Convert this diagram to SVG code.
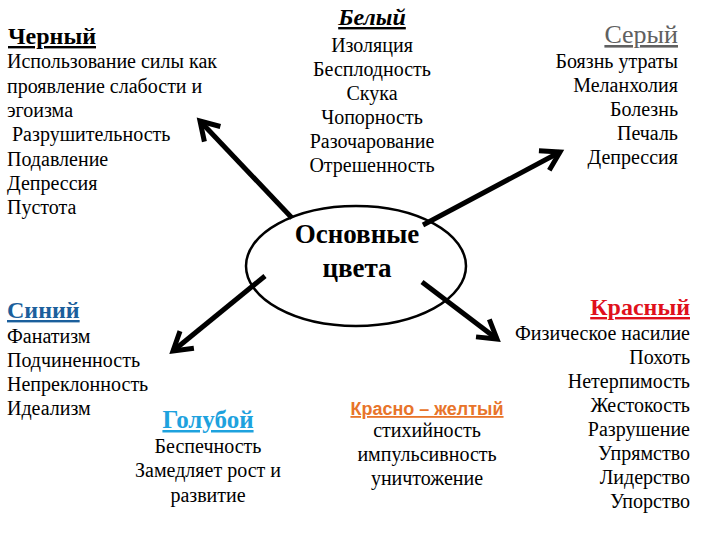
<svg xmlns="http://www.w3.org/2000/svg" width="720" height="540" viewBox="0 0 720 540">
<defs>
<style>
text{font-family:"Liberation Serif","Times New Roman",serif;fill:#000}
.b{font-size:20px}
.h{font-size:24px;font-weight:bold;text-decoration:underline}
.m{text-anchor:middle}
.e{text-anchor:end}
.c{stroke:#000;stroke-width:5;fill:none;marker-end:url(#ah)}
</style>
<marker id="ah" markerUnits="userSpaceOnUse" viewBox="-24 -14 30 28" refX="0" refY="0" markerWidth="30" markerHeight="28" orient="auto">
<polyline points="-18,-11 0,0 -18,11" fill="none" stroke="#000" stroke-width="5" stroke-linejoin="miter"/>
</marker>
</defs>
<rect width="720" height="540" fill="#fff"/>
<g id="connectors">
<line class="c" x1="292" y1="218" x2="200" y2="121"/>
<line class="c" x1="423" y1="225" x2="560" y2="152"/>
<line class="c" x1="265" y1="276" x2="173" y2="351"/>
<line class="c" x1="422" y1="282" x2="497" y2="339"/>
</g>
<g id="center">
<ellipse cx="356" cy="266" rx="110" ry="60" fill="none" stroke="#000" stroke-width="2.5"/>
<text x="357" y="243" class="m" style="font-size:27px;font-weight:bold">Основные</text>
<text x="357" y="277" class="m" style="font-size:27px;font-weight:bold">цвета</text>
</g>
<g id="black">
<text x="8" y="44" class="h">Черный</text>
<text class="b" x="7" y="68">Использование силы как</text>
<text class="b" x="7" y="93">проявление слабости и</text>
<text class="b" x="7" y="117">эгоизма</text>
<text class="b" x="12" y="141">Разрушительность</text>
<text class="b" x="7" y="166">Подавление</text>
<text class="b" x="7" y="190">Депрессия</text>
<text class="b" x="7" y="214">Пустота</text>
</g>
<g id="white">
<text x="372" y="25" class="h m" style="font-style:italic">Белый</text>
<text class="b m" x="372" y="52">Изоляция</text>
<text class="b m" x="372" y="76">Бесплодность</text>
<text class="b m" x="372" y="100">Скука</text>
<text class="b m" x="372" y="124">Чопорность</text>
<text class="b m" x="372" y="148">Разочарование</text>
<text class="b m" x="372" y="172">Отрешенность</text>
</g>
<g id="gray">
<text x="678" y="43" class="e" style="font-size:26px;fill:#606060;text-decoration:underline">Серый</text>
<text class="b e" x="678" y="68">Боязнь утраты</text>
<text class="b e" x="678" y="92">Меланхолия</text>
<text class="b e" x="678" y="116">Болезнь</text>
<text class="b e" x="678" y="140">Печаль</text>
<text class="b e" x="678" y="164">Депрессия</text>
</g>
<g id="blue">
<text x="7" y="318" class="h" style="fill:#1b5f9c">Синий</text>
<text class="b" x="7" y="343">Фанатизм</text>
<text class="b" x="7" y="367">Подчиненность</text>
<text class="b" x="7" y="391">Непреклонность</text>
<text class="b" x="7" y="415">Идеализм</text>
</g>
<g id="lightblue">
<text x="208" y="428" class="h m" style="fill:#1ea2de;font-size:25px">Голубой</text>
<text class="b m" x="208" y="453">Беспечность</text>
<text class="b m" x="208" y="477">Замедляет рост и</text>
<text class="b m" x="208" y="502">развитие</text>
</g>
<g id="red">
<text x="690" y="315" class="h e" style="fill:#e0101c">Красный</text>
<text class="b e" x="690" y="340">Физическое насилие</text>
<text class="b e" x="690" y="364">Похоть</text>
<text class="b e" x="690" y="388">Нетерпимость</text>
<text class="b e" x="690" y="412">Жестокость</text>
<text class="b e" x="690" y="436">Разрушение</text>
<text class="b e" x="690" y="460">Упрямство</text>
<text class="b e" x="690" y="484">Лидерство</text>
<text class="b e" x="690" y="508">Упорство</text>
</g>
<g id="redyellow">
<text x="427" y="415" class="m" style="font-family:'Liberation Sans',Arial,sans-serif;font-size:18px;font-weight:bold;fill:#e8742a;text-decoration:underline">Красно – желтый</text>
<text class="b m" x="427" y="437">стихийность</text>
<text class="b m" x="427" y="461">импульсивность</text>
<text class="b m" x="427" y="485">уничтожение</text>
</g>
</svg>
